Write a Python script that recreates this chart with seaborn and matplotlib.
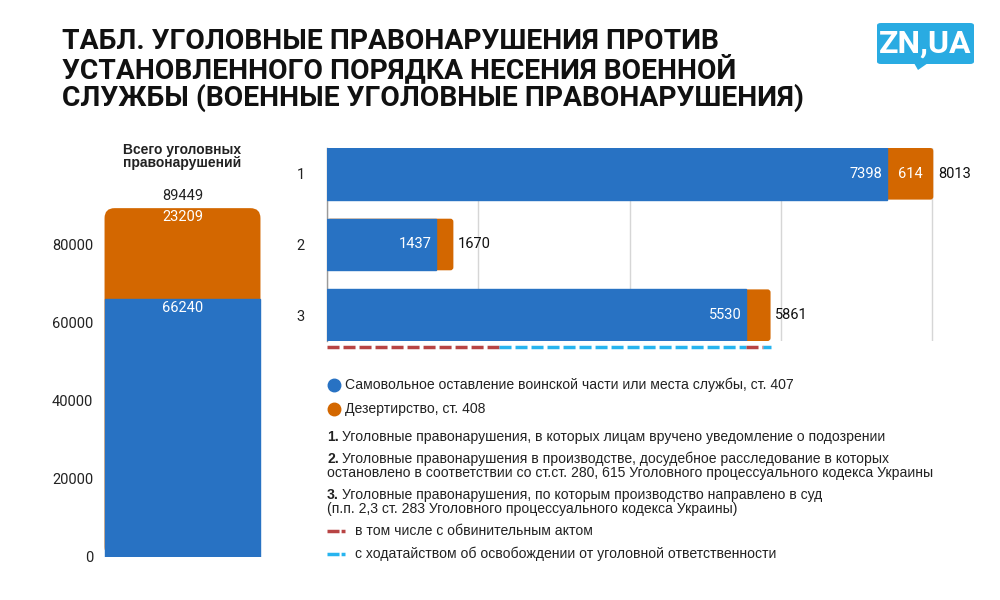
import numpy as np
import pandas as pd
import matplotlib
matplotlib.use("Agg")
import matplotlib.pyplot as plt
from matplotlib import font_manager
from matplotlib.patches import FancyBboxPatch, Polygon
from matplotlib.lines import Line2D
import matplotlib.transforms as mtransforms
import seaborn as sns

# --- data ---
categories = ["1", "2", "3"]
awol = [7398, 1437, 5530]          # ст. 407
desertion = [614, 233, 331]        # ст. 408
totals = [8013, 1670, 5861]

total_awol = 66240
total_desertion = 23209
total_all = 89449

# dashed split under row 3: (awol part, desertion part)
indictment = [2270, 237]
petition = [3260, 94]

left_ticks = [0, 20000, 40000, 60000, 80000]
grid_ticks = [0, 2000, 4000, 6000, 8000]

BLUE = "#2872c3"
ORANGE = "#d36700"
RED = "#b84444"
CYAN = "#27b4ef"

sns.set_style("white")
names = {f.name for f in font_manager.fontManager.ttflist}
narrow = "Liberation Sans Narrow" if "Liberation Sans Narrow" in names else "Liberation Sans"
plt.rcParams["font.family"] = ["Roboto", "DejaVu Sans"]

W, H = 1000, 600
fig = plt.figure(figsize=(10, 6), dpi=100)


def fx(px):
    return px / W


def fy(py):
    return 1 - py / H


def round_patch(ax, patch, r_px, color):
    # swap a bar rectangle for a rounded one (radius in pixels)
    x, y = patch.get_x(), patch.get_y()
    w, h = patch.get_width(), patch.get_height()
    p0 = ax.transData.transform((0, 0))
    p1 = ax.transData.transform((1, 1))
    sx, sy = abs(p1[0] - p0[0]), abs(p1[1] - p0[1])
    patch.remove()
    fb = FancyBboxPatch((x, y), w, h,
                        boxstyle=f"round,pad=0,rounding_size={r_px / sx}",
                        mutation_aspect=sx / sy, fc=color, ec="none", zorder=2)
    ax.add_patch(fb)


# --- left: total column ---
axL = fig.add_axes([fx(100), fy(557), fx(165), 390 / H])
dfl = pd.DataFrame({"x": ["all"], "all": [total_all], "awol": [total_awol]})
sns.barplot(data=dfl, x="x", y="all", color=ORANGE, width=0.945, linewidth=0,
            saturation=1, errorbar=None, ax=axL)
axL.set_ylim(0, 100000)
axL.set_xlim(-0.5, 0.5)
round_patch(axL, axL.patches[0], 10, ORANGE)
n = len(axL.patches)
sns.barplot(data=dfl, x="x", y="awol", color=BLUE, width=0.945, linewidth=1,
            edgecolor=BLUE, saturation=1, errorbar=None, ax=axL)
for p in axL.patches[n:]:
    p.set_zorder(3)
axL.set_ylim(0, 100000)
axL.set_xlim(-0.5, 0.5)
axL.set_yticks(left_ticks)
axL.set_yticklabels([str(t) for t in left_ticks], fontsize=10.5, color="#222222")
axL.tick_params(axis="y", length=0, pad=5)
axL.set_xticks([])
axL.set_xlabel("")
axL.set_ylabel("")
sns.despine(ax=axL, left=True, bottom=True)

axL.annotate(str(total_all), (0, total_all), xytext=(0, 4), textcoords="offset points",
             ha="center", va="bottom", fontsize=10.5, color="#222222")
axL.annotate(str(total_desertion), (0, total_all), xytext=(0, -1.5), textcoords="offset points",
             ha="center", va="top", fontsize=10.5, color="white", zorder=5)
axL.annotate(str(total_awol), (0, total_awol), xytext=(0, -1.5), textcoords="offset points",
             ha="center", va="top", fontsize=10.5, color="white", zorder=5)

fig.text(fx(182), fy(143), "Всего уголовных\nправонарушений", ha="center", va="top",
         fontsize=10, fontweight="bold", family=["Liberation Sans"], linespacing=0.88,
         color="#222222")

# --- right: horizontal stacked bars ---
axR = fig.add_axes([fx(327), fy(341), fx(613), 193 / H])
df = pd.DataFrame({"cat": categories, "awol": awol, "desertion": desertion})
df["stack"] = df["awol"] + df["desertion"]
sns.barplot(data=df, y="cat", x="stack", orient="h", color=ORANGE, width=0.73,
            linewidth=0, saturation=1, errorbar=None, ax=axR)
axR.set_xlim(0, 8100)
axR.set_ylim(2.365, -0.365)
for p in list(axR.patches):
    round_patch(axR, p, 3, ORANGE)
n = len(axR.patches)
sns.barplot(data=df, y="cat", x="awol", orient="h", color=BLUE, width=0.73,
            linewidth=1, edgecolor=BLUE, saturation=1, errorbar=None, ax=axR)
for p in axR.patches[n:]:
    p.set_zorder(3)
axR.set_xlim(0, 8100)
axR.set_ylim(2.365, -0.365)
axR.set_xticks(grid_ticks)
axR.xaxis.grid(True, color="#d6d6d6", lw=1)
axR.set_axisbelow(True)
axR.tick_params(axis="x", labelbottom=False, length=0)
axR.tick_params(axis="y", length=0, pad=16, labelsize=10.5, labelcolor="#222222")
axR.set_xlabel("")
axR.set_ylabel("")
for s in ["top", "right", "bottom"]:
    axR.spines[s].set_visible(False)
axR.spines["left"].set_color("#9a9a9a")
axR.spines["left"].set_linewidth(1)

for i in range(len(categories)):
    axR.annotate(str(awol[i]), (awol[i], i), xytext=(-3, 0), textcoords="offset points",
                 ha="right", va="center", fontsize=10.5, color="white", zorder=5)
    if desertion[i] > 500:
        axR.annotate(str(desertion[i]), (awol[i] + desertion[i] / 2, i),
                     ha="center", va="center", fontsize=10.5, color="white", zorder=5)
    axR.annotate(str(totals[i]), (awol[i] + desertion[i], i), xytext=(3.5, 0),
                 textcoords="offset points", ha="left", va="center", fontsize=10.5,
                 color="#111111")

# dashed split under row 3
trans = mtransforms.blended_transform_factory(axR.transData, axR.transAxes)
base = [0, awol[2]]
ydash = -6 / 193
for b, ind, pet in zip(base, indictment, petition):
    axR.plot([b, b + ind], [ydash, ydash], color=RED, lw=2.5, dashes=(3.46, 1.15),
             transform=trans, clip_on=False)
    axR.plot([b + ind, b + ind + pet], [ydash, ydash], color=CYAN, lw=2.5,
             dashes=(3.46, 1.15), transform=trans, clip_on=False)

# --- title ---
fig.text(fx(62), fy(28),
         "ТАБЛ. УГОЛОВНЫЕ ПРАВОНАРУШЕНИЯ ПРОТИВ\nУСТАНОВЛЕННОГО ПОРЯДКА НЕСЕНИЯ ВОЕННОЙ\n"
         "СЛУЖБЫ (ВОЕННЫЕ УГОЛОВНЫЕ ПРАВОНАРУШЕНИЯ)",
         ha="left", va="top", fontsize=20.3, fontweight="bold", linespacing=0.98,
         color="#111111")

# --- logo ---
fig.add_artist(FancyBboxPatch((fx(877), fy(64)), fx(97), 41 / H,
                              boxstyle="round,pad=0,rounding_size=0.004",
                              transform=fig.transFigure, fc="#29abe2", ec="none"))
fig.add_artist(Polygon([[fx(914), fy(63)], [fx(928), fy(63)], [fx(918), fy(70)]],
                       closed=True, transform=fig.transFigure, fc="#29abe2", ec="none"))
fig.text(fx(925.5), fy(44), "ZN,UA", ha="center", va="center", fontsize=23,
         fontweight="bold", color="white")

# --- legend and notes ---
txt = dict(fontsize=10.1, family=[narrow], color="#222222", va="center", ha="left")
for py, col, label in [(385, BLUE, "Самовольное оставление воинской части или места службы, ст. 407"),
                       (409, ORANGE, "Дезертирство, ст. 408")]:
    fig.add_artist(Line2D([fx(334)], [fy(py)], marker="o", ms=9, color=col,
                          transform=fig.transFigure))
    fig.text(fx(345), fy(py), label, **txt)

notes = [
    (437, "1.", ["Уголовные правонарушения, в которых лицам вручено уведомление о подозрении"]),
    (459, "2.", ["Уголовные правонарушения в производстве, досудебное расследование в которых",
                 "остановлено в соответствии со ст.ст. 280, 615 Уголовного процессуального кодекса Украины"]),
    (495, "3.", ["Уголовные правонарушения, по которым производство направлено в суд",
                 "(п.п. 2,3 ст. 283 Уголовного процессуального кодекса Украины)"]),
]
for py, num, lines in notes:
    fig.text(fx(327), fy(py), num, fontweight="bold", **txt)
    fig.text(fx(342), fy(py), lines[0], **txt)
    if len(lines) > 1:
        fig.text(fx(327), fy(py + 14), lines[1], **txt)

for py, col, label in [(531, RED, "в том числе с обвинительным актом"),
                       (554, CYAN, "с ходатайством об освобождении от уголовной ответственности")]:
    fig.add_artist(Line2D([fx(327), fx(345)], [fy(py), fy(py)], color=col, lw=2.5,
                          dashes=(3.46, 0.6), transform=fig.transFigure))
    fig.text(fx(355), fy(py), label, **txt)

fig.savefig("out.png", dpi=100, facecolor="white")
